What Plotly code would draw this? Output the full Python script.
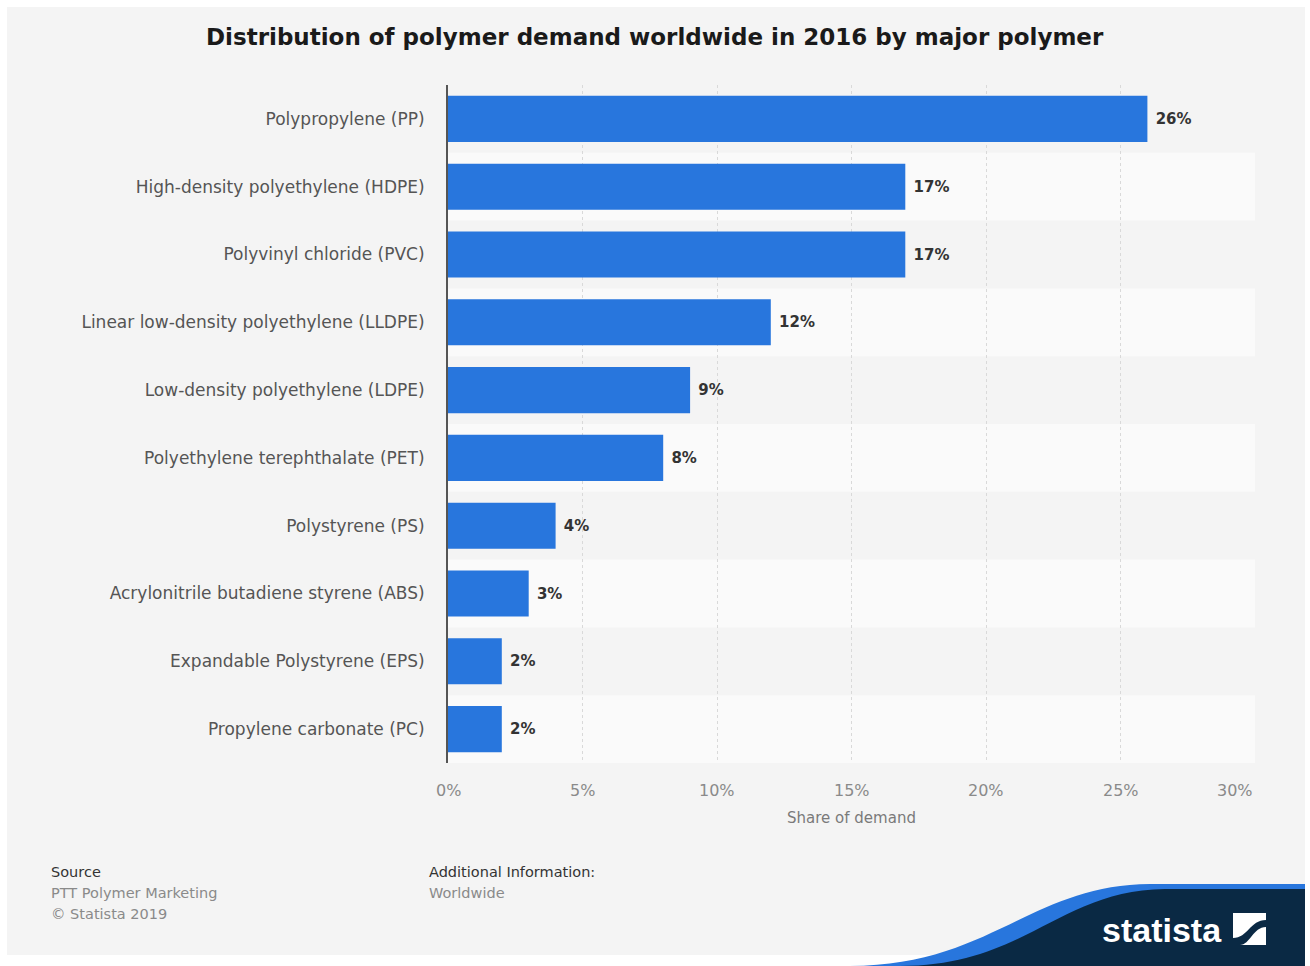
import plotly.graph_objects as go

# Polymer demand shares, 2016 (percent of worldwide demand)
polymers = [
    "Polypropylene (PP)",
    "High-density polyethylene (HDPE)",
    "Polyvinyl chloride (PVC)",
    "Linear low-density polyethylene (LLDPE)",
    "Low-density polyethylene (LDPE)",
    "Polyethylene terephthalate (PET)",
    "Polystyrene (PS)",
    "Acrylonitrile butadiene styrene (ABS)",
    "Expandable Polystyrene (EPS)",
    "Propylene carbonate (PC)",
]
share = [26, 17, 17, 12, 9, 8, 4, 3, 2, 2]
x_ticks = [0, 5, 10, 15, 20, 25, 30]
x_tick_labels = ["0%", "5%", "10%", "15%", "20%", "25%", "30%"]

W, H = 1310, 966
L, R, T, B = 448, 1255, 85, 763  # plot area in pixels


def px(x):
    return (x - L) / (R - L)


def py(y):
    return (B - y) / (B - T)


def path(cmds):
    # cmds: list of (letter, [x1, y1, x2, y2, ...]) in pixel space
    out = []
    for c, pts in cmds:
        coords = []
        for i in range(0, len(pts), 2):
            coords.append(f"{px(pts[i]):.5f},{py(pts[i + 1]):.5f}")
        out.append(c + " ".join(coords))
    return " ".join(out) + " Z"


BAR = "#2876dd"
NAVY = "#0a2944"
FONT = "DejaVu Sans, Verdana, sans-serif"

fig = go.Figure()
fig.add_trace(go.Bar(
    x=share,
    y=polymers,
    orientation="h",
    marker=dict(color=BAR, line=dict(width=0)),
    width=0.68,
    text=[f"\u00a0{v}%" for v in share],
    textposition="outside",
    textfont=dict(family=FONT, size=15, color="#333333", weight="bold"),
    cliponaxis=False,
    hoverinfo="skip",
))

shapes = [
    # page panel
    dict(type="rect", xref="paper", yref="paper", x0=px(7), x1=px(1305), y0=py(955), y1=py(7),
         fillcolor="#f4f4f4", line=dict(width=0), layer="below"),
]
# alternating row bands
for i in range(len(polymers)):
    if i % 2 == 1:
        shapes.append(dict(type="rect", xref="x", yref="y", x0=0, x1=30, y0=i - 0.5, y1=i + 0.5,
                           fillcolor="#fafafa", line=dict(width=0), layer="below"))

# logo wave
shapes.append(dict(type="path", xref="paper", yref="paper", layer="above",
                   path=path([("M", [850, 966]), ("C", [990, 966, 1030, 885, 1150, 884]),
                              ("L", [1305, 884]), ("L", [1305, 966])]),
                   fillcolor=BAR, line=dict(width=0)))
shapes.append(dict(type="path", xref="paper", yref="paper", layer="above",
                   path=path([("M", [900, 966]), ("C", [1025, 966, 1060, 890, 1165, 889]),
                              ("L", [1305, 889]), ("L", [1305, 966])]),
                   fillcolor=NAVY, line=dict(width=0)))
# logo icon
shapes.append(dict(type="rect", xref="paper", yref="paper", layer="above",
                   x0=px(1233), x1=px(1266), y0=py(945), y1=py(913),
                   fillcolor="white", line=dict(width=0)))
shapes.append(dict(type="path", xref="paper", yref="paper", layer="above",
                   path=path([("M", [1233, 945]), ("L", [1233, 938]), ("C", [1248, 938, 1250, 920, 1266, 920]),
                              ("L", [1266, 927]), ("C", [1253, 927, 1250, 945, 1240, 945])]),
                   fillcolor=NAVY, line=dict(width=0)))


def note(text, x, y, size, color, anchor="left", weight="normal", family=FONT):
    return dict(text=text, x=px(x), y=py(y), xref="paper", yref="paper", showarrow=False,
                font=dict(family=family, size=size, color=color, weight=weight),
                xanchor=anchor, yanchor="middle")


annotations = [
    note("Distribution of polymer demand worldwide in 2016 by major polymer", 655, 37, 23, "#1a1a1a",
         anchor="center", weight="bold"),
    note("Source", 49, 872, 14.5, "#333333"),
    note("PTT Polymer Marketing", 49, 893, 14.5, "#8a8a8a"),
    note("© Statista 2019", 49, 914, 14.5, "#8a8a8a"),
    note("Additional Information:", 427, 872, 14.5, "#333333"),
    note("Worldwide", 427, 893, 14.5, "#8a8a8a"),
    note("statista", 1224, 930, 34, "white", anchor="right", weight="bold",
         family="Liberation Sans Narrow, Liberation Sans, Arial, sans-serif"),
]
# x tick labels (last one kept inside the panel)
for v, lab in zip(x_ticks, x_tick_labels):
    annotations.append(dict(text=lab, x=v, xref="x", y=py(790), yref="paper", showarrow=False,
                            xanchor="right" if v == x_ticks[-1] else "center", yanchor="middle",
                            font=dict(family=FONT, size=16, color="#8a8a8a")))

fig.update_layout(
    width=W, height=H,
    margin=dict(l=L, r=W - R, t=T, b=H - B, pad=0),
    paper_bgcolor="white",
    plot_bgcolor="#f4f4f4",
    showlegend=False,
    shapes=shapes,
    annotations=annotations,
    font=dict(family=FONT),
)
fig.update_xaxes(
    range=[0, 30],
    tickvals=x_ticks, showticklabels=False,
    showgrid=True, gridcolor="#d9d9d9", griddash="dot", gridwidth=1,
    zeroline=False, showline=False, ticks="",
    title=dict(text="Share of demand", font=dict(family=FONT, size=15, color="#7a7a7a"), standoff=49),
    fixedrange=True,
)
fig.update_yaxes(
    categoryorder="array", categoryarray=polymers,
    autorange="reversed",
    tickfont=dict(family=FONT, size=17, color="#555555"),
    showgrid=False, zeroline=False,
    showline=True, linecolor="#555555", linewidth=2,
    ticks="", ticklabelstandoff=18,
    fixedrange=True,
)

fig.write_html("out.html")
